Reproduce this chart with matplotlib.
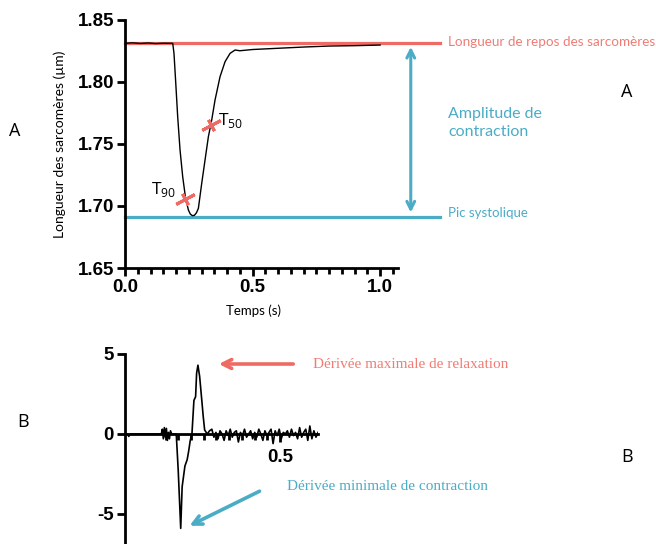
import numpy as np
import matplotlib
matplotlib.use("Agg")
import matplotlib.pyplot as plt

# ---------------- data ----------------
# Panel A: sarcomere length trace
t_top = [0.0, 0.03, 0.06, 0.09, 0.12, 0.15, 0.187, 0.192, 0.199, 0.2065, 0.2157, 0.2261,
         0.2366, 0.2484, 0.2560, 0.2640, 0.2720, 0.2800, 0.2876, 0.3007, 0.3137, 0.3268,
         0.3399, 0.3529, 0.3725, 0.3922, 0.4118, 0.4314, 0.45, 0.5, 0.6, 0.7, 0.8, 0.9, 1.0]
sl_top = [1.8312, 1.8316, 1.8311, 1.8315, 1.8310, 1.8313, 1.8312, 1.8231, 1.7989, 1.7720,
          1.7452, 1.7237, 1.7075, 1.6968, 1.6935, 1.6922, 1.6925, 1.6945, 1.6981, 1.7183,
          1.7371, 1.7559, 1.7694, 1.7855, 1.8043, 1.8164, 1.8231, 1.8258, 1.8252, 1.8262,
          1.8272, 1.8282, 1.8290, 1.8293, 1.8298]
rest_length = 1.8316
systolic_peak = 1.6915
t50 = (0.336, 1.765)
t90 = (0.235, 1.7054)
yticks_top = [1.65, 1.70, 1.75, 1.80, 1.85]
xticks_top = [0.0, 0.5, 1.0]

# Panel B: derivative trace
t_bot_main = [-0.11, -0.10, -0.095, -0.09, 0.0, 0.033, 0.037, 0.041, 0.045, 0.049, 0.053,
              0.057, 0.061, 0.065, 0.069, 0.074, 0.0918, 0.0995, 0.1094, 0.1150, 0.1260,
              0.1349, 0.1404, 0.1470, 0.1536, 0.1614, 0.1680, 0.1720, 0.1772, 0.1839,
              0.1930, 0.1980, 0.2036, 0.2140, 0.2230]
d_bot_main = [0.0, 0.0, -0.15, 0.0, 0.0, 0.0, 0.3, -0.3, 0.4, -0.2, 0.35, -0.4, 0.1, -0.3,
              0.2, 0.0, 0.0, -2.25, -5.9, -3.3, -2.0, -1.6, -1.1, -0.4, 0.0, 2.1, 2.33,
              3.8, 4.3, 3.6, 2.0, 1.1, 0.25, 0.0, 0.2]
noise_vals = [0.3, -0.2, 0.1, -0.3, 0.2, 0.0, -0.4, 0.2, -0.1, 0.3, -0.2, 0.1, 0.2, -0.5,
              0.1, -0.1, 0.3, -0.2, 0.0, 0.2, -0.3, 0.1, -0.2, 0.3, 0.0, -0.4, 0.2, -0.1,
              0.1, 0.3, -0.6, 0.2, -0.1, 0.3, -0.3, 0.1, 0.0, 0.2, -0.2, 0.3, -0.1, 0.1,
              -0.3, 0.4, -0.2, 0.1, 0.3, -0.4, 0.5, -0.3, 0.2, -0.2, 0.1]
yticks_bot = [-5, 0, 5]
xticks_bot = [0.5]

RED = "#EF6A62"
RED_T = "#F07C74"
TEAL = "#4BACC6"

W, H = 656, 544
fig = plt.figure(figsize=(W / 100, H / 100), dpi=100)


def fx(px):
    return px / W


def fy(py):
    return 1 - py / H


tickfont = dict(family="Liberation Sans", weight="bold", size=13.5)

# ---------------- Panel A ----------------
ax = fig.add_axes([fx(125), fy(268), (398 - 125) / W, (268 - 20) / H])
ax.plot(t_top, sl_top, color="black", lw=1.0, zorder=3)
ax.set_xlim(0, 1.07)
ax.set_ylim(1.65, 1.85)
for s in ["top", "right"]:
    ax.spines[s].set_visible(False)
for s in ["left", "bottom"]:
    ax.spines[s].set_linewidth(2.0)
ax.set_yticks(yticks_top)
ax.set_yticklabels([f"{v:.2f}" for v in yticks_top], fontdict=tickfont)
ax.set_xticks(xticks_top)
ax.set_xticklabels([f"{v:.1f}" for v in xticks_top], fontdict=tickfont)
ax.set_xticks(np.arange(0, 1.06, 0.05), minor=True)
ax.tick_params(axis="both", which="major", length=6, width=2.0, pad=2)
ax.tick_params(axis="x", which="minor", length=4.5, width=2.0)

ax.plot([0, 1.235], [rest_length, rest_length], color=RED, lw=2.3, clip_on=False, zorder=2)
ax.plot([0, 1.235], [systolic_peak, systolic_peak], color=TEAL, lw=2.3, clip_on=False, zorder=2)
ax.annotate("", xy=(1.12, systolic_peak + 0.001), xytext=(1.12, rest_length - 0.001),
            arrowprops=dict(arrowstyle="<->", color=TEAL, lw=2.2, mutation_scale=14),
            annotation_clip=False)

for (tx, ty) in [t50, t90]:
    ax.plot([tx], [ty], marker=(2, 2, -62), ms=15, mew=2.2, color=RED, ls="none", zorder=4)
    ax.plot([tx], [ty], marker=(2, 2, 28), ms=9, mew=2.2, color=RED, ls="none", zorder=4)

ax.text(t50[0] + 0.03, t50[1] + 0.004, r"T$_{\mathregular{50}}$", fontsize=12.5,
        family="Open Sans", va="center", ha="left")
ax.text(t90[0] - 0.035, t90[1] + 0.008, r"T$_{\mathregular{90}}$", fontsize=12.5,
        family="Open Sans", va="center", ha="right")

ax.set_ylabel("Longueur des sarcomères (µm)", family="Lato", fontsize=10, labelpad=8)
fig.text(fx(254), fy(311), "Temps (s)", family="Lato", fontsize=9.5, ha="center", va="center")

fig.text(fx(448), fy(42), "Longueur de repos des sarcomères", color=RED_T, family="Lato",
         fontsize=9.7, ha="left", va="center")
fig.text(fx(448), fy(123), "Amplitude de\ncontraction", color=TEAL, family="Lato",
         fontsize=11.5, ha="left", va="center", linespacing=1.3)
fig.text(fx(448), fy(213), "Pic systolique", color=TEAL, family="Lato",
         fontsize=9.5, ha="left", va="center")

for (px, py, s) in [(15, 131, "A"), (627, 92, "A"), (23, 422, "B"), (627, 457, "B")]:
    fig.text(fx(px), fy(py), s, family="Open Sans", fontsize=13, ha="center", va="center")

# ---------------- Panel B ----------------
ax2 = fig.add_axes([fx(125), fy(544), (318 - 125) / W, (544 - 354) / H])
t_noise = np.linspace(0.232, 0.65, len(noise_vals))
t_bot = list(t_bot_main) + list(t_noise)
d_bot = list(d_bot_main) + list(noise_vals)
ax2.plot(t_bot, d_bot, color="black", lw=1.2, zorder=3)
ax2.set_xlim(-0.11, 0.65)
ax2.set_ylim(-6.875, 5)
for s in ["top", "right"]:
    ax2.spines[s].set_visible(False)
ax2.spines["left"].set_linewidth(2.0)
ax2.spines["bottom"].set_linewidth(2.0)
ax2.spines["bottom"].set_position(("data", 0))
ax2.spines["left"].set_position(("data", -0.11))
ax2.set_yticks(yticks_bot)
ax2.set_yticklabels([str(v) for v in yticks_bot], fontdict=tickfont)
ax2.set_xticks(xticks_bot)
ax2.set_xticklabels(["0.5"], fontdict=tickfont)
ax2.set_xticks(np.arange(0.05, 0.46, 0.05), minor=True)
ax2.tick_params(axis="both", which="major", length=6, width=2.0, pad=2)
ax2.tick_params(axis="x", which="minor", length=4, width=2.0)
ax2.tick_params(axis="x", which="major", pad=5)

fig.text(fx(313), fy(365), "Dérivée maximale de relaxation", color=RED_T,
         family="Liberation Serif", fontsize=11, ha="left", va="center")
fig.text(fx(287), fy(486), "Dérivée minimale de contraction", color=TEAL,
         family="Liberation Serif", fontsize=11, ha="left", va="center")

fig.patches.append(matplotlib.patches.FancyArrowPatch(
    (fx(296), fy(364)), (fx(216), fy(364)), transform=fig.transFigure,
    arrowstyle="->", color=RED, lw=2.6, mutation_scale=16))
fig.patches.append(matplotlib.patches.FancyArrowPatch(
    (fx(262), fy(490)), (fx(187), fy(527)), transform=fig.transFigure,
    arrowstyle="->", color=TEAL, lw=2.6, mutation_scale=16))

fig.savefig("out.png", dpi=100)
